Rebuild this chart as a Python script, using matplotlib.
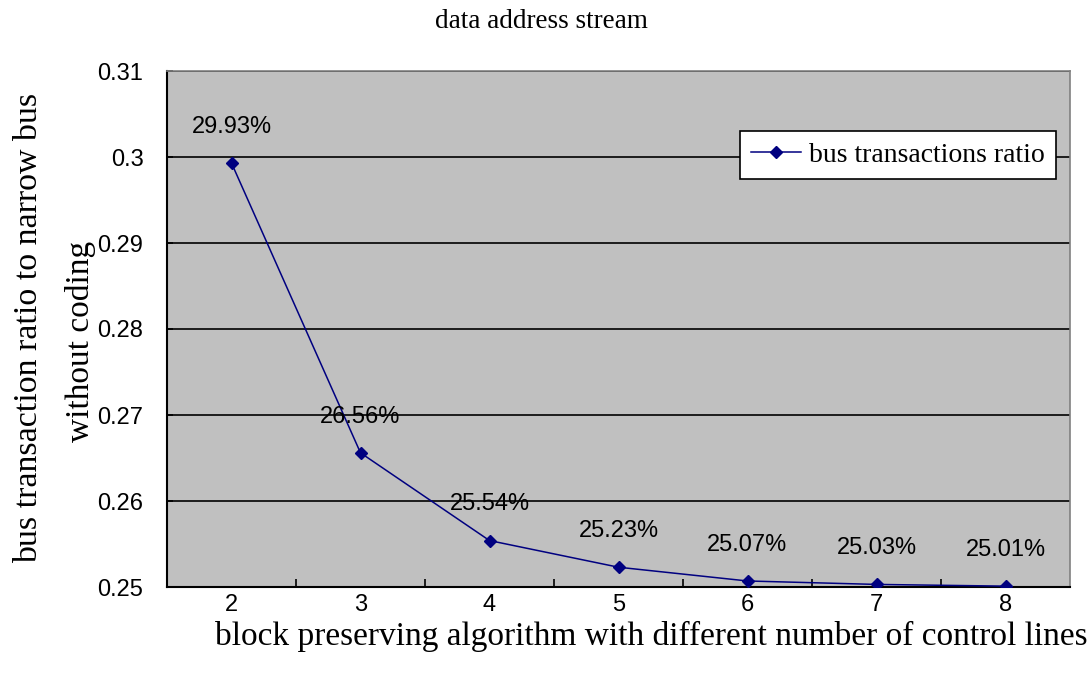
import numpy as np
import matplotlib
matplotlib.use("Agg")
import matplotlib.pyplot as plt
from matplotlib.ticker import FixedLocator

# ===============================
# Data
# ===============================
control_lines = ["2", "3", "4", "5", "6", "7", "8"]
ratio = [0.2993, 0.2656, 0.2554, 0.2523, 0.2507, 0.2503, 0.2501]
ratio_labels = ["29.93%", "26.56%", "25.54%", "25.23%", "25.07%", "25.03%", "25.01%"]
y_ticks = [0.25, 0.26, 0.27, 0.28, 0.29, 0.30, 0.31]
y_tick_labels = ["0.25", "0.26", "0.27", "0.28", "0.29", "0.3", "0.31"]

SERIF = "Liberation Serif"
SANS = "Liberation Sans"
LINE_COLOR = "#000080"

# ===============================
# Figure / axes
# ===============================
fig = plt.figure(figsize=(10.92, 6.84), dpi=100)
fig.patch.set_facecolor("white")

ax = fig.add_axes([167 / 1092, 1 - 587 / 684, 903 / 1092, 516 / 684])
ax.set_facecolor("#C0C0C0")

x = np.arange(len(control_lines))
ax.plot(x, ratio, color=LINE_COLOR, linewidth=1.1, marker="D",
        markersize=6, markerfacecolor=LINE_COLOR, markeredgecolor=LINE_COLOR,
        label="bus transactions ratio", zorder=3)

# data labels above each point
for xi, yi, txt in zip(x, ratio, ratio_labels):
    ax.annotate(txt, (xi, yi), xytext=(0, 26), textcoords="offset points",
                ha="center", va="center", fontsize=17, family=SANS,
                color="black", zorder=4)

# Eje Y
ax.set_ylim(0.25, 0.31)
ax.set_yticks(y_ticks)
ax.set_yticklabels(y_tick_labels)
ax.grid(True, axis="y", color="black", linewidth=1.2)
ax.set_axisbelow(True)

# Eje X (categories, ticks between them)
ax.set_xlim(-0.5, len(control_lines) - 0.5)
ax.set_xticks(x)
ax.set_xticklabels(control_lines)
ax.xaxis.set_minor_locator(FixedLocator(x[:-1] + 0.5))
ax.tick_params(axis="x", which="major", length=0, pad=5)
ax.tick_params(axis="x", which="minor", direction="in", length=6, width=1.2)
ax.tick_params(axis="y", direction="in", length=4, width=1.2, pad=17)

for lab in ax.get_xticklabels() + ax.get_yticklabels():
    lab.set_family(SANS)
    lab.set_fontsize(17)

for side in ["left", "bottom"]:
    ax.spines[side].set_color("black")
    ax.spines[side].set_linewidth(1.5)
for side in ["top", "right"]:
    ax.spines[side].set_color("#808080")
    ax.spines[side].set_linewidth(1.2)

# Legend
leg = ax.legend(loc="upper right", bbox_to_anchor=(1056 / 1092, 1 - 131 / 684),
                bbox_transform=fig.transFigure, frameon=True, fancybox=False,
                prop={"family": SERIF, "size": 20}, handlelength=1.8,
                borderpad=0.4, handletextpad=0.3, borderaxespad=0)
leg.get_frame().set_edgecolor("black")
leg.get_frame().set_linewidth(1.2)
leg.get_frame().set_facecolor("white")
leg.get_frame().set_alpha(1)

# Labels
fig.text(541 / 1092, 1 - 22 / 684, "data address stream", ha="center",
         va="center", family=SERIF, fontsize=19.5)
fig.text(651 / 1092, 1 - 636 / 684,
         "block preserving algorithm with different number of control lines",
         ha="center", va="center", family=SERIF, fontsize=24)
fig.text(29 / 1092, 1 - 328 / 684, "bus transaction ratio to narrow bus",
         ha="center", va="center", rotation=90, family=SERIF, fontsize=24.5)
fig.text(81 / 1092, 1 - 341 / 684, "without coding",
         ha="center", va="center", rotation=90, family=SERIF, fontsize=24)

fig.savefig("out.png", dpi=100)
